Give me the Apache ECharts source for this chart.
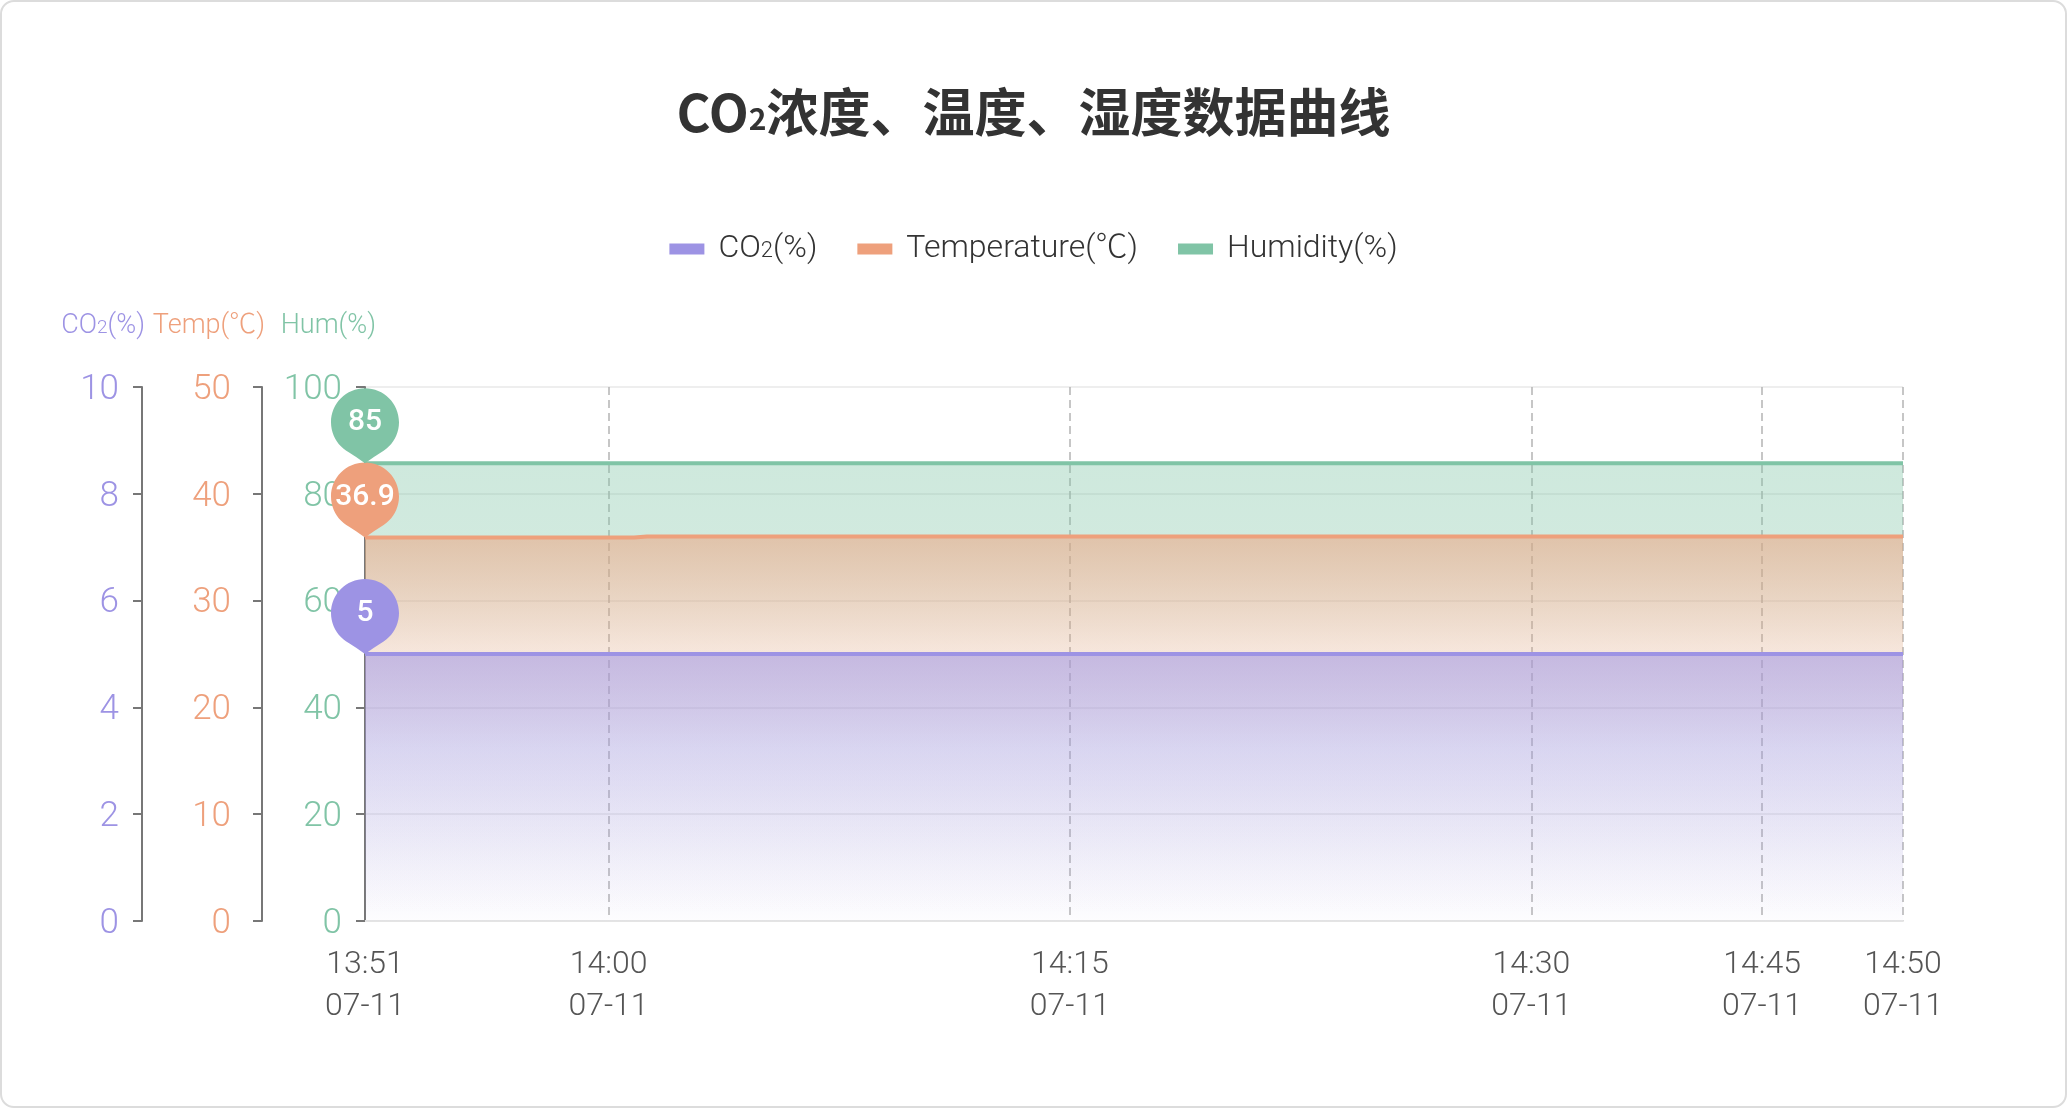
<!DOCTYPE html>
<html lang="zh-CN" style="height: 100%">
<head>
    <meta charset="UTF-8">
    <title>CO2浓度、温度、湿度数据曲线</title>
    <script type="text/javascript" src="https://cdn.jsdelivr.net/npm/echarts@6/dist/echarts.min.js"></script>
    <style>
        html, body { height: 100%; margin: 0; background: #fff; }
        #container { position: absolute; left: 0; top: 0; width: 100%; height: 100%; }
        #frame { position: absolute; left: 0; top: 0; right: 0; bottom: 0; border: 2px solid #dcdcdc;
                 border-radius: 14px; pointer-events: none; }
    </style>
</head>
<body>
<div id="container"></div>
<div id="frame"></div>
<script type="text/javascript">
    // 采样时间 (07-11)
    var dateLabel = '07-11';
    var times = [
        '13:51:00', '13:51:28', '13:51:57', '13:52:25', '13:52:54', '13:53:22', '13:53:51', '13:54:19', '13:54:47', '13:55:16',
        '13:55:44', '13:56:13', '13:56:41', '13:57:09', '13:57:38', '13:58:06', '13:58:35', '13:59:03', '13:59:32',
        '14:00:00', '14:00:25', '14:00:50', '14:01:15', '14:01:40', '14:02:05', '14:02:30', '14:02:55', '14:03:20', '14:03:45',
        '14:04:10', '14:04:35', '14:05:00', '14:05:25', '14:05:50', '14:06:15', '14:06:40', '14:07:05', '14:07:30', '14:07:55',
        '14:08:20', '14:08:45', '14:09:10', '14:09:35', '14:10:00', '14:10:25', '14:10:50', '14:11:15', '14:11:40', '14:12:05',
        '14:12:30', '14:12:55', '14:13:20', '14:13:45', '14:14:10', '14:14:35', '14:15:00',
        '14:15:25', '14:15:50', '14:16:15', '14:16:40', '14:17:05', '14:17:30', '14:17:55', '14:18:20', '14:18:45', '14:19:10',
        '14:19:35', '14:20:00', '14:20:25', '14:20:50', '14:21:15', '14:21:40', '14:22:05', '14:22:30', '14:22:55', '14:23:20',
        '14:23:45', '14:24:10', '14:24:35', '14:25:00', '14:25:25', '14:25:50', '14:26:15', '14:26:40', '14:27:05', '14:27:30',
        '14:27:55', '14:28:20', '14:28:45', '14:29:10', '14:29:35', '14:30:00',
        '14:30:50', '14:31:40', '14:32:30', '14:33:20', '14:34:10', '14:35:00', '14:35:50', '14:36:40', '14:37:30', '14:38:20',
        '14:39:10', '14:40:00', '14:40:50', '14:41:40', '14:42:30', '14:43:20', '14:44:10', '14:45:00',
        '14:45:27', '14:45:55', '14:46:22', '14:46:49', '14:47:16', '14:47:44', '14:48:11', '14:48:38', '14:49:05', '14:49:33',
        '14:50:00'
    ];

    var co2Data = [
        5, 5, 5, 5, 5, 5, 5, 5, 5, 5, 5, 5, 5, 5, 5, 5, 5, 5, 5, 5,
        5, 5, 5, 5, 5, 5, 5, 5, 5, 5, 5, 5, 5, 5, 5, 5, 5, 5, 5, 5,
        5, 5, 5, 5, 5, 5, 5, 5, 5, 5, 5, 5, 5, 5, 5, 5, 5, 5, 5, 5,
        5, 5, 5, 5, 5, 5, 5, 5, 5, 5, 5, 5, 5, 5, 5, 5, 5, 5, 5, 5,
        5, 5, 5, 5, 5, 5, 5, 5, 5, 5, 5, 5, 5, 5, 5, 5, 5, 5, 5, 5,
        5, 5, 5, 5, 5, 5, 5, 5, 5, 5, 5, 5, 5, 5, 5, 5, 5, 5, 5, 5,
        5
    ];
    var tempData = [
        35.9, 35.9, 35.9, 35.9, 35.9, 35.9, 35.9, 35.9, 35.9, 35.9, 35.9, 35.9, 35.9, 35.9, 35.9, 35.9, 35.9, 35.9, 35.9, 35.9,
        35.9, 35.9, 36.0, 36.0, 36.0, 36.0, 36.0, 36.0, 36.0, 36.0, 36.0, 36.0, 36.0, 36.0, 36.0, 36.0, 36.0, 36.0, 36.0, 36.0,
        36.0, 36.0, 36.0, 36.0, 36.0, 36.0, 36.0, 36.0, 36.0, 36.0, 36.0, 36.0, 36.0, 36.0, 36.0, 36.0, 36.0, 36.0, 36.0, 36.0,
        36.0, 36.0, 36.0, 36.0, 36.0, 36.0, 36.0, 36.0, 36.0, 36.0, 36.0, 36.0, 36.0, 36.0, 36.0, 36.0, 36.0, 36.0, 36.0, 36.0,
        36.0, 36.0, 36.0, 36.0, 36.0, 36.0, 36.0, 36.0, 36.0, 36.0, 36.0, 36.0, 36.0, 36.0, 36.0, 36.0, 36.0, 36.0, 36.0, 36.0,
        36.0, 36.0, 36.0, 36.0, 36.0, 36.0, 36.0, 36.0, 36.0, 36.0, 36.0, 36.0, 36.0, 36.0, 36.0, 36.0, 36.0, 36.0, 36.0, 36.0,
        36.0
    ];
    var humData = [
        85.7, 85.7, 85.7, 85.7, 85.7, 85.7, 85.7, 85.7, 85.7, 85.7, 85.7, 85.7, 85.7, 85.7, 85.7, 85.7, 85.7, 85.7, 85.7, 85.7,
        85.7, 85.7, 85.7, 85.7, 85.7, 85.7, 85.7, 85.7, 85.7, 85.7, 85.7, 85.7, 85.7, 85.7, 85.7, 85.7, 85.7, 85.7, 85.7, 85.7,
        85.7, 85.7, 85.7, 85.7, 85.7, 85.7, 85.7, 85.7, 85.7, 85.7, 85.7, 85.7, 85.7, 85.7, 85.7, 85.7, 85.7, 85.7, 85.7, 85.7,
        85.7, 85.7, 85.7, 85.7, 85.7, 85.7, 85.7, 85.7, 85.7, 85.7, 85.7, 85.7, 85.7, 85.7, 85.7, 85.7, 85.7, 85.7, 85.7, 85.7,
        85.7, 85.7, 85.7, 85.7, 85.7, 85.7, 85.7, 85.7, 85.7, 85.7, 85.7, 85.7, 85.7, 85.7, 85.7, 85.7, 85.7, 85.7, 85.7, 85.7,
        85.7, 85.7, 85.7, 85.7, 85.7, 85.7, 85.7, 85.7, 85.7, 85.7, 85.7, 85.7, 85.7, 85.7, 85.7, 85.7, 85.7, 85.7, 85.7, 85.7,
        85.7
    ];
    // 标注气泡里显示的数值
    var co2Mark = 5;
    var tempMark = 36.9;
    var humMark = 85;

    var co2Color = '#9d93e4';
    var tempColor = '#eea07c';
    var humColor = '#80c4a6';
    var labelFont = 'Roboto, "Noto Sans CJK SC", sans-serif';

    // 圆形气泡 + 短尖角, 尖角落在数据点上
    var pinPath = 'path://M0,-34 C18.78,-34 34,-18.78 34,0 C34,18.78 18.78,34 0,34 C-18.78,34 -34,18.78 -34,0 ' +
        'C-34,-18.78 -18.78,-34 0,-34 Z M19,28.2 Q8,35 0,41 Q-8,35 -19,28.2 Z';

    function showTick(idx, val) {
        return idx === 0 || idx === times.length - 1 || /^\d\d:(00|15|30|45):00$/.test(val);
    }

    function grad(rgb, stops) {
        return new echarts.graphic.LinearGradient(0, 0, 0, 1, stops.map(function (s) {
            return {offset: s[0], color: 'rgba(' + rgb + ',' + s[1] + ')'};
        }));
    }

    function pin(val, y) {
        return {
            symbol: pinPath,
            symbolSize: [68, 75],
            symbolOffset: [0, -37.5],
            label: {show: true, color: '#fff', fontSize: 30, fontWeight: 500, fontFamily: labelFont, offset: [0, -3]},
            data: [{coord: [0, y], value: val}]
        };
    }

    function yAxis(name, color, max, interval, offset, margin, namePad, split) {
        return {
            type: 'value', position: 'left', offset: offset, min: 0, max: max, interval: interval,
            name: name, nameLocation: 'end', nameGap: 61,
            nameTextStyle: {
                align: 'right', verticalAlign: 'middle', padding: [0, namePad, 0, 0],
                color: color, fontSize: 27, fontFamily: labelFont, fontWeight: 300,
                rich: {
                    a: {fontSize: 27, color: color, fontFamily: labelFont, fontWeight: 300},
                    s: {fontSize: 19, color: color, fontFamily: labelFont, fontWeight: 300, verticalAlign: 'bottom', padding: [0, 0, 2, 0]}
                }
            },
            axisLine: {show: true, lineStyle: {color: '#777', width: 2}},
            axisTick: {show: true, length: 9, lineStyle: {color: '#777', width: 2}},
            axisLabel: {
                margin: margin,
                formatter: function (v) { return '{v|' + v + '}'; },
                rich: {v: {color: color, fontSize: 35, fontFamily: labelFont, fontWeight: 300, padding: [6, 0, 0, 0]}}
            },
            splitLine: {show: split, lineStyle: {color: '#e8e8e8', width: 1.5}}
        };
    }

    var myChart = echarts.init(document.getElementById('container'));
    myChart.setOption({
        animation: false,
        backgroundColor: '#fff',
        title: {
            text: '{a|CO}{s|2}{a|浓度、温度、湿度数据曲线}',
            left: 'center',
            top: 81,
            textStyle: {
                rich: {
                    a: {fontSize: 52, fontWeight: 'bold', color: '#333', fontFamily: '"Noto Sans CJK SC", sans-serif'},
                    s: {fontSize: 30, color: '#333', fontFamily: '"Noto Sans CJK SC", sans-serif', verticalAlign: 'bottom', padding: [0, 0, 4, 0]}
                }
            }
        },
        legend: {
            top: 228,
            left: 'center',
            icon: 'rect',
            itemWidth: 35,
            itemHeight: 11,
            itemGap: 40,
            data: ['CO2(%)', 'Temperature(℃)', 'Humidity(%)'],
            formatter: function (name) {
                return name === 'CO2(%)' ? '{a|CO}{s|2}{a|(%)}' : '{a|' + name + '}';
            },
            textStyle: {
                padding: [0, 0, 0, 9],
                rich: {
                    a: {fontSize: 32, color: '#333', fontFamily: labelFont, fontWeight: 300},
                    s: {fontSize: 22, color: '#333', fontFamily: labelFont, fontWeight: 300, verticalAlign: 'bottom', padding: [0, 0, 3, 0]}
                }
            }
        },
        grid: {left: 365, right: 164, top: 387, bottom: 187, containLabel: false, outerBoundsMode: 'none'},
        xAxis: {
            type: 'category',
            boundaryGap: false,
            data: times,
            axisLine: {lineStyle: {color: '#e4e4e4', width: 2}},
            axisTick: {show: false},
            axisLabel: {
                interval: showTick,
                color: '#555',
                fontSize: 32,
                lineHeight: 42,
                margin: 23,
                fontFamily: labelFont,
                fontWeight: 300,
                formatter: function (v) { return v.slice(0, 5) + '\n' + dateLabel; }
            },
            splitLine: {show: true, interval: showTick, lineStyle: {color: '#b4b4b4', width: 1.5, type: [8, 5]}}
        },
        yAxis: [
            yAxis('{a|CO}{s|2}{a|(%)}', co2Color, 10, 2, 223, 23, -3, false),
            yAxis('{a|Temp(℃)}', tempColor, 50, 10, 103, 31, -3, false),
            yAxis('{a|Hum(%)}', humColor, 100, 20, 0, 23, -11, true)
        ],
        series: [
            {
                name: 'CO2(%)', type: 'line', yAxisIndex: 0, data: co2Data, z: 4,
                showSymbol: false, lineStyle: {color: co2Color, width: 4}, itemStyle: {color: co2Color},
                areaStyle: {opacity: 1, color: grad('157,147,228', [[0, 0.54], [1, 0.02]])},
                markPoint: pin(co2Mark, co2Data[0])
            },
            {
                name: 'Temperature(℃)', type: 'line', yAxisIndex: 1, data: tempData, z: 3,
                showSymbol: false, lineStyle: {color: tempColor, width: 4}, itemStyle: {color: tempColor},
                areaStyle: {opacity: 1, color: grad('238,160,123', [[0, 0.52], [0.3, 0.24], [0.55, 0.03], [1, 0]])},
                markPoint: pin(tempMark, tempData[0])
            },
            {
                name: 'Humidity(%)', type: 'line', yAxisIndex: 2, data: humData, z: 2,
                showSymbol: false, lineStyle: {color: humColor, width: 4}, itemStyle: {color: humColor},
                areaStyle: {opacity: 1, color: grad('127,196,165', [[0, 0.38], [0.16, 0.36], [0.4, 0.06], [1, 0]])},
                markPoint: pin(humMark, humData[0])
            }
        ]
    });
</script>
</body>
</html>
